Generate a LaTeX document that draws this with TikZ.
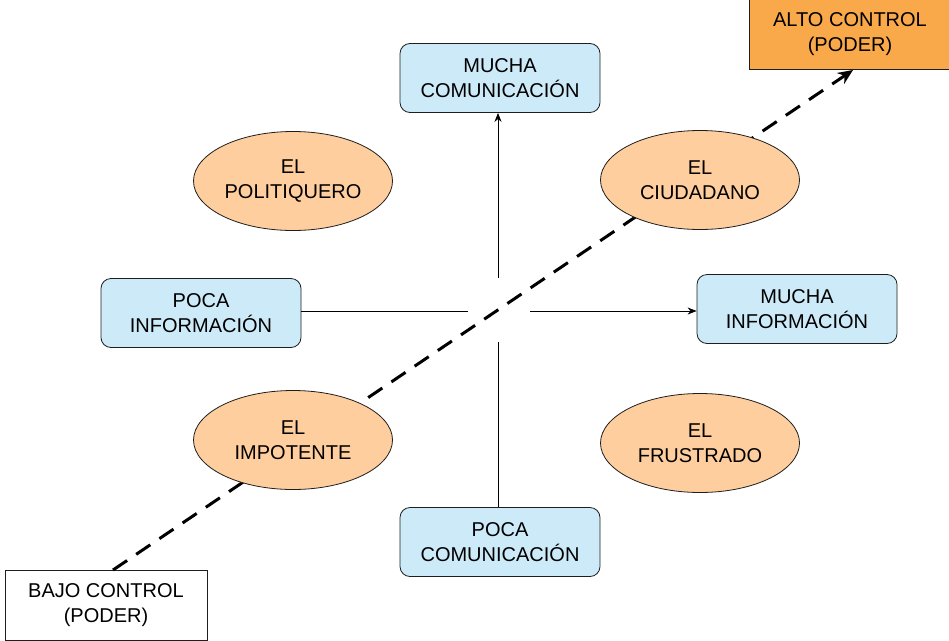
\documentclass[tikz,border=0pt]{standalone}
\usepackage{fontspec}
\setmainfont{Liberation Sans}
\usetikzlibrary{shapes.geometric,arrows.meta}
\definecolor{boxblue}{RGB}{204,234,248}
\definecolor{ellorange}{RGB}{255,206,158}
\definecolor{altoorange}{RGB}{250,169,74}
\definecolor{edge}{RGB}{30,30,30}
\tikzset{
  txt/.style={font=\fontsize{20}{25}\selectfont, align=center, text=black},
  bluebox/.style={txt, draw=edge, fill=boxblue, rounded corners=10pt, minimum width=200pt, minimum height=69pt, line width=0.8pt},
  oval/.style={txt, ellipse, draw=edge, fill=ellorange, minimum width=199pt, minimum height=99pt, line width=0.8pt, inner sep=0pt},
  plainbox/.style={txt, draw=edge, minimum width=200pt, minimum height=70pt, line width=0.8pt},
  axis/.style={line width=0.8pt, draw=black},
  axisarrow/.style={axis, -{Stealth[length=9pt,width=7pt]}},
  power/.style={line width=3pt, dash pattern=on 17pt off 11pt, -{Stealth[length=15pt,width=13pt]}}
}
\begin{document}
\begin{tikzpicture}[x=1pt,y=-1pt]
\useasboundingbox (0,0) rectangle (949,640);
% boxes
\node[plainbox, fill=altoorange, minimum width=202pt] (alto) at (850,34) {ALTO CONTROL\\(PODER)};
\node[plainbox, fill=white, minimum width=202pt] (bajo) at (106,605) {BAJO CONTROL\\(PODER)};
% power line (behind ellipses)
\coordinate (pstart) at (113,570);
\coordinate (pend) at (853,70);
\draw[power] (pstart) -- (pend);
\node[bluebox] (mc) at (500,78) {MUCHA\\COMUNICACIÓN};
\node[bluebox] (pi) at (201,313) {POCA\\INFORMACIÓN};
\node[bluebox] (mi) at (797,309) {MUCHA\\INFORMACIÓN};
\node[bluebox] (pc) at (500,542) {POCA\\COMUNICACIÓN};
% ellipses
\node[oval] (pol) at (293,181) {EL\\POLITIQUERO};
\node[oval] (ciu) at (700,180) {EL\\CIUDADANO};
\node[oval] (imp) at (293,440) {EL\\IMPOTENTE};
\node[oval] (fru) at (700,443) {EL\\FRUSTRADO};
% axes
\coordinate (ctop) at (498,278);
\coordinate (cbot) at (498,342);
\coordinate (cleft) at (468,311);
\coordinate (cright) at (530,311);
\draw[axisarrow] (ctop) -- (ctop |- mc.south);
\draw[axis] (cbot) -- (cbot |- pc.north);
\draw[axis] (pi.east |- cleft) -- (cleft);
\draw[axisarrow] (cright) -- (mi.west |- cright);
\end{tikzpicture}
\end{document}
